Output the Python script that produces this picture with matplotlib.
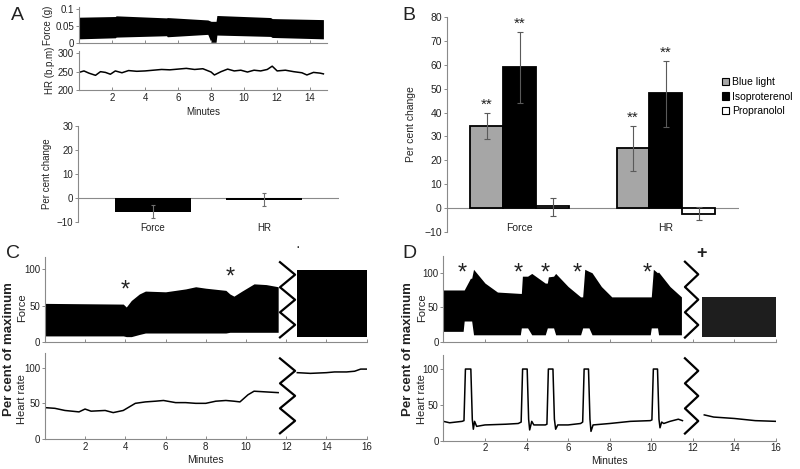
import matplotlib
matplotlib.use("Agg")
import matplotlib.pyplot as plt
from matplotlib.patches import Patch
from matplotlib.transforms import offset_copy
import numpy as np

plt.rcParams['font.family'] = ['Liberation Sans', 'DejaVu Sans']
plt.rcParams['axes.unicode_minus'] = True

# ---------------- data ----------------
# Panel A - force envelope (g) over minutes
a_force_t = [0, 2.2, 2.25, 5.3, 5.35, 7.8, 8.0, 8.3, 8.35, 11.6, 11.7, 14.8]
a_force_hi = [0.076, 0.078, 0.080, 0.074, 0.075, 0.068, 0.064, 0.064, 0.081, 0.075, 0.072, 0.069]
a_force_lo = [0.013, 0.016, 0.018, 0.022, 0.019, 0.026, 0.003, 0.003, 0.024, 0.020, 0.017, 0.013]
# Panel A - heart rate (b.p.m)
a_hr_t = [0, 0.3, 0.6, 1.0, 1.3, 1.6, 1.9, 2.2, 2.6, 3.0, 3.5, 4.0, 4.5, 5.0, 5.5, 6.0,
          6.5, 7.0, 7.5, 8.0, 8.2, 8.6, 9.0, 9.4, 9.8, 10.2, 10.6, 11.0, 11.4, 11.7,
          12.0, 12.5, 13.0, 13.5, 13.8, 14.2, 14.6, 14.8]
a_hr = [248, 252, 246, 240, 250, 248, 243, 252, 247, 253, 251, 252, 254, 256, 255, 257,
        259, 256, 258, 249, 241, 250, 257, 252, 254, 249, 254, 252, 256, 265,
        252, 254, 250, 247, 241, 248, 246, 244]
# Panel A - bar chart
a_cats = ['Force', 'HR']
a_vals = [-6.0, -1.0]
a_err_lo = [-8.5, -3.5]
a_err_hi = [-3.0, 1.8]

# Panel B - grouped bars
b_cats = ['Force', 'HR']
b_series = ['Blue light', 'Isoproterenol', 'Propranolol']
b_blue = [34.5, 25.0]
b_iso = [59.0, 48.0]
b_prop = [0.8, -2.5]
b_blue_err = [[29.0, 40.0], [15.5, 34.5]]
b_iso_err = [[44.0, 73.5], [34.0, 61.5]]
b_prop_err = [[-3.0, 4.5], [-5.0, 0.5]]
b_sig = ['**', '**', '']

# Panel C - force envelope (% of max)
c_force_pre_t = [0, 3.9, 4.05, 4.3, 4.7, 5.0, 6.0, 7.0, 7.5, 8.0, 9.0, 9.2, 9.4, 9.8, 10.4, 11.0, 11.6]
c_force_pre_hi = [53, 52, 48, 57, 66, 70, 69, 73, 76, 74, 71, 66, 63, 70, 80, 79, 76]
c_force_pre_lo = [8, 8, 7, 7, 10, 12, 12, 12, 12, 12, 12, 13, 13, 13, 13, 13, 13]
c_force_post_t = [12.55, 16.0]
c_force_post_hi = [99, 99]
c_force_post_lo = [7, 7]
c_stars = [4.0, 9.2]
c_stars_y = [83, 100]
# Panel C - heart rate (% of max)
c_hr_pre_t = [0, 0.5, 1.0, 1.7, 2.0, 2.3, 3.0, 3.4, 3.9, 4.2, 4.5, 5.0, 5.5, 5.9, 6.5, 7.0,
              7.5, 8.0, 8.5, 9.0, 9.4, 9.7, 10.1, 10.4, 11.0, 11.6]
c_hr_pre = [44, 43, 40, 38, 42, 39, 40, 37, 40, 45, 50, 52, 53, 54, 51, 51,
            50, 50, 53, 54, 53, 52, 62, 67, 66, 65]
c_hr_post_t = [12.55, 13.2, 14.0, 14.4, 15.0, 15.4, 15.7, 16.0]
c_hr_post = [93, 92, 93, 94, 94, 95, 98, 98]

# Panel D - force envelope (% of max)
d_force_pre_t = [0.0, 0.95, 1.0, 1.3, 1.36, 1.45, 2.0, 2.6, 3.7, 3.75, 3.8, 4.05, 4.25,
                 4.9, 5.0, 5.05, 5.3, 5.4, 6.0, 6.6, 6.7, 6.8, 7.0, 7.15, 7.6, 8.1,
                 9.95, 10.0, 10.1, 10.3, 10.35, 10.9, 11.45]
d_force_pre_hi = [75, 75, 75, 92, 92, 105, 85, 72, 70, 70, 95, 95, 99,
                  85, 85, 94, 95, 99, 80, 65, 65, 105, 102, 100, 80, 65,
                  65, 65, 105, 100, 101, 80, 65]
d_force_pre_lo = [15, 15, 30, 30, 30, 10, 10, 10, 10, 20, 20, 20, 10,
                  10, 20, 20, 20, 10, 10, 10, 20, 20, 20, 10, 10, 10,
                  10, 20, 20, 20, 10, 10, 10]
d_force_post_t = [12.45, 16.0]
d_force_post_hi = [65, 65]
d_force_post_lo = [7, 7]
d_stars = [0.91, 3.6, 4.89, 6.46, 9.81]
d_stars_y = [111, 111, 111, 111, 111]
# Panel D - heart rate (% of max)
d_hr_pre_t = [0, 0.3, 0.9, 0.99, 1.06, 1.32, 1.39, 1.44, 1.5, 1.6, 2.0, 3.0, 3.6,
              3.74, 3.81, 4.03, 4.1, 4.15, 4.25, 4.35, 4.9,
              4.98, 5.05, 5.27, 5.34, 5.4, 5.5, 6.0, 6.6,
              6.7, 6.77, 6.98, 7.05, 7.1, 7.2, 8.0, 9.0, 9.95,
              10.03, 10.1, 10.3, 10.37, 10.42, 10.5, 10.6, 10.9, 11.3, 11.5]
d_hr_pre = [27, 25, 27, 28, 100, 100, 30, 16, 27, 20, 22, 23, 24,
            26, 100, 100, 30, 15, 27, 22, 22,
            23, 100, 100, 30, 16, 22, 22, 24,
            26, 100, 100, 30, 13, 22, 24, 27, 28,
            29, 100, 100, 30, 18, 26, 24, 27, 30, 28]
d_hr_post_t = [12.55, 13.0, 14.0, 15.0, 16.0]
d_hr_post = [36, 33, 31, 28, 27]

minute_ticks_a = [2, 4, 6, 8, 10, 12, 14]
minute_ticks_cd = [2, 4, 6, 8, 10, 12, 14, 16]

# ---------------- figure ----------------
W, H = 800, 469
fig = plt.figure(figsize=(W / 100, H / 100), dpi=100)

def ax_px(x0, x1, ytop, ybot):
    return fig.add_axes([x0 / W, 1 - ybot / H, (x1 - x0) / W, (ybot - ytop) / H])

SPC = '#8a8a8a'
TXT = '#222222'
FS = 7

def style(ax, left=True, bottom=True):
    for s in ['top', 'right']:
        ax.spines[s].set_visible(False)
    ax.spines['left'].set_visible(left)
    ax.spines['bottom'].set_visible(bottom)
    for s in ['left', 'bottom']:
        ax.spines[s].set_color(SPC)
        ax.spines[s].set_linewidth(0.8)
    ax.tick_params(axis='y', direction='out', length=2, width=0.7, color=SPC,
                   labelsize=FS, labelcolor=TXT, pad=1.5)
    ax.tick_params(axis='x', direction='in', length=2.5, width=0.7, color=SPC,
                   labelsize=FS, labelcolor=TXT, pad=2)
    ax.patch.set_alpha(0)

def stars(ax, xs, ys, fs=17):
    tr = offset_copy(ax.transData, fig=fig, y=-0.62 * fs, units='points')
    for x, y in zip(xs, ys):
        ax.text(x, y, '*', ha='center', va='baseline', fontsize=fs, color=TXT,
                transform=tr, clip_on=False)

# ---- Panel A ----
axAf = ax_px(79, 326.7, 6.9, 43.3)
style(axAf)
axAf.fill_between(a_force_t, a_force_lo, a_force_hi, color='black', lw=0)
axAf.set_xlim(0, 15)
axAf.set_ylim(0, 0.106)
axAf.set_yticks([0, 0.05, 0.1])
axAf.set_yticklabels(['0', '0.05', '0.1'])
axAf.set_xticks(minute_ticks_a)
axAf.set_xticklabels([])
axAf.set_ylabel('Force (g)', fontsize=FS, color=TXT, labelpad=2)

axAh = ax_px(79, 326.7, 51.5, 90)
style(axAh)
axAh.plot(a_hr_t, a_hr, color='black', lw=1.1)
axAh.set_xlim(0, 15)
axAh.set_ylim(200, 305)
axAh.set_yticks([200, 250, 300])
axAh.set_xticks(minute_ticks_a)
axAh.set_ylabel('HR (b.p.m)', fontsize=FS, color=TXT, labelpad=2)
axAh.set_xlabel('Minutes', fontsize=FS, color=TXT, labelpad=3)

axAb = ax_px(78, 339, 125.7, 221.7)
style(axAb, bottom=False)
xa = np.arange(len(a_cats))
axAb.bar(xa, a_vals, width=0.68, color='black', zorder=2)
a_err = [np.array(a_vals) - np.array(a_err_lo), np.array(a_err_hi) - np.array(a_vals)]
axAb.errorbar(xa, a_vals, yerr=a_err, fmt='none', ecolor='#6e6e6e', elinewidth=0.8,
              capsize=1.5, capthick=0.8, zorder=3)
axAb.axhline(0, color=SPC, lw=0.8, zorder=1)
axAb.set_xlim(-0.675, 1.675)
axAb.set_ylim(-10, 30)
axAb.set_yticks([-10, 0, 10, 20, 30])
axAb.set_xticks([])
axAb.set_ylabel('Per cent change', fontsize=FS, color=TXT, labelpad=3)
for i, c in enumerate(a_cats):
    axAb.text(i, -12.7, c, ha='center', va='center', fontsize=FS, color=TXT, clip_on=False)

# ---- Panel B ----
axB = ax_px(446.7, 739, 16.7, 232.3)
style(axB, bottom=False)
xb = np.arange(len(b_cats))
bw = 0.225
colors = ['#a6a6a6', 'black', 'white']
series = [b_blue, b_iso, b_prop]
errs = [b_blue_err, b_iso_err, b_prop_err]
for k, (vals, er, col, name) in enumerate(zip(series, errs, colors, b_series)):
    pos = xb + (k - 1) * bw
    axB.bar(pos, vals, width=bw, color=col, edgecolor='black', linewidth=1.3, zorder=2, label=name)
    lo = [v - e[0] for v, e in zip(vals, er)]
    hi = [e[1] - v for v, e in zip(vals, er)]
    axB.errorbar(pos, vals, yerr=[lo, hi], fmt='none', ecolor='#5a5a5a', elinewidth=0.8,
                 capsize=2, capthick=0.8, zorder=3)
    if b_sig[k]:
        for p, e in zip(pos, er):
            axB.text(p, e[1] + 0.5, b_sig[k], ha='center', va='bottom', fontsize=11, color=TXT)
axB.axhline(0, color=SPC, lw=0.8, zorder=1)
axB.set_xlim(-0.5, 1.5)
axB.set_ylim(-10, 80)
axB.set_yticks(range(-10, 81, 10))
axB.set_xticks([])
axB.tick_params(axis='y', labelsize=7.5)
axB.set_ylabel('Per cent change', fontsize=7.5, color=TXT, labelpad=6)
for i, c in enumerate(b_cats):
    axB.text(i, -8.0, c, ha='center', va='center', fontsize=7.5, color=TXT)
handles = [Patch(facecolor=c, edgecolor='black', linewidth=0.8) for c in colors]
fig.legend(handles, b_series, loc='upper left', bbox_to_anchor=(722 / W, 1 - 77 / H),
           frameon=False, fontsize=7.5, handlelength=0.7, handleheight=0.7,
           handletextpad=0.3, labelspacing=0.45, borderaxespad=0, borderpad=0)

# ---- Panels C and D ----
def zigzag(ax, xl, xr, ytop, ybot, n=7):
    ys = np.linspace(ytop, ybot, n)
    xs = [xl if i % 2 == 0 else xr for i in range(n)]
    ax.plot(xs, ys, color='black', lw=1.6, clip_on=False, zorder=4)

def trace_axes(x0, x1, ftop, fbot, fmax, htop, hbot, hmax):
    axf = ax_px(x0, x1, ftop, fbot)
    axh = ax_px(x0, x1, htop, hbot)
    for ax, ym in [(axf, fmax), (axh, hmax)]:
        style(ax)
        ax.set_xlim(0, 16)
        ax.set_ylim(0, ym)
        ax.set_yticks([0, 50, 100])
        ax.set_xticks(minute_ticks_cd)
    axf.set_xticklabels([])
    axh.set_xlabel('Minutes', fontsize=7.5, color=TXT, labelpad=2)
    return axf, axh

axCf, axCh = trace_axes(44.8, 366.7, 257.1, 341.7, 117, 353.4, 439, 120)
axCf.fill_between(c_force_pre_t, c_force_pre_lo, c_force_pre_hi, color='black', lw=0)
axCf.fill_between(c_force_post_t, c_force_post_lo, c_force_post_hi, color='black', lw=0)
stars(axCf, c_stars, c_stars_y)
axCf.text(12.58, 131, '·', ha='center', va='center', fontsize=10, color=TXT, clip_on=False)
zigzag(axCf, 11.69, 12.44, 110, 6)
axCh.plot(c_hr_pre_t, c_hr_pre, color='black', lw=1.1)
axCh.plot(c_hr_post_t, c_hr_post, color='black', lw=1.1)
zigzag(axCh, 11.69, 12.44, 113, 8)

axDf, axDh = trace_axes(443.4, 776, 255.5, 341.7, 125, 354.7, 440.7, 120)
axDf.fill_between(d_force_pre_t, d_force_pre_lo, d_force_pre_hi, color='black', lw=0)
axDf.fill_between(d_force_post_t, d_force_post_lo, d_force_post_hi, color='#1e1e1e', lw=0)
stars(axDf, d_stars, d_stars_y)
axDf.text(12.42, 128.5, '+', ha='center', va='center', fontsize=13, color=TXT,
          fontweight='bold', clip_on=False)
zigzag(axDf, 11.62, 12.26, 116, 6)
axDh.plot(d_hr_pre_t, d_hr_pre, color='black', lw=1.1)
axDh.plot(d_hr_post_t, d_hr_post, color='black', lw=1.1)
zigzag(axDh, 11.62, 12.26, 115, 10)

# side labels for C and D
for xb0, xsub in [(9, 22), (408, 422)]:
    fig.text(xb0 / W, 1 - 349 / H, 'Per cent of maximum', rotation=90, ha='center', va='center',
             fontsize=9.5, fontweight='bold', color=TXT)
    fig.text(xsub / W, 1 - 308 / H, 'Force', rotation=90, ha='center', va='center',
             fontsize=8, color=TXT)
    fig.text(xsub / W, 1 - 399 / H, 'Heart rate', rotation=90, ha='center', va='center',
             fontsize=8, color=TXT)

# panel letters
for lab, x, y in [('A', 17, 15), ('B', 409, 15), ('C', 13, 254), ('D', 409, 254)]:
    fig.text(x / W, 1 - y / H, lab, ha='center', va='center', fontsize=14, color=TXT)

fig.savefig('out.png', dpi=100)
